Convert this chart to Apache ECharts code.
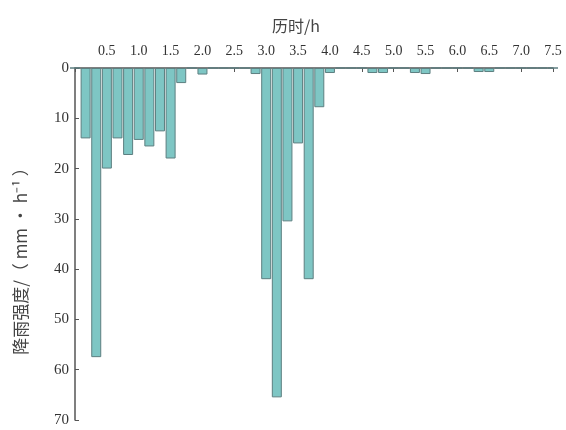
<!DOCTYPE html>
<html>
<head>
<meta charset="utf-8">
<script src="https://cdn.jsdelivr.net/npm/echarts@6/dist/echarts.min.js"></script>
<style>
  html, body { margin: 0; padding: 0; background: #fff; }
  #chart { width: 566px; height: 430px; }
</style>
</head>
<body>
<div id="chart"></div>
<script>
// 10 分钟一个时段，从 0 到 450 min
const minutes = Array.from({ length: 46 }, (_, i) => i * 10)
// 降雨强度 mm/h，按时段读图
const intensity = [
  0, 14, 57.5, 20, 14, 17.3, 14.3, 15.6, 12.6, 18,
  3, 0, 1.3, 0, 0, 0, 0, 1.2, 42, 65.5,
  30.5, 15, 42, 7.8, 1, 0, 0, 0, 1, 1,
  0, 0, 1, 1.2, 0, 0, 0, 0, 0.8, 0.8,
  0, 0, 0, 0, 0, 0
]
const hourTicks = { min: 0, max: 7.5, interval: 0.5 }
const depthTicks = { min: 0, max: 70, interval: 10 }

const chart = echarts.init(document.getElementById('chart'))

const serif = '"Liberation Serif", "Noto Sans CJK SC", serif'
const axisColor = '#555'

const option = {
  animation: false,
  grid: { left: 75, right: 13, top: 68, bottom: 10 },
  xAxis: [
    {
      type: 'value',
      position: 'top',
      min: hourTicks.min,
      max: hourTicks.max,
      interval: hourTicks.interval,
      name: '历时/h',
      nameLocation: 'middle',
      nameGap: 34,
      nameTextStyle: {
        fontFamily: '"Noto Sans CJK SC", sans-serif',
        fontSize: 16,
        color: '#444',
        padding: [0, 36, 0, 0]
      },
      axisLine: { show: true, lineStyle: { color: axisColor, width: 1.5 } },
      axisTick: { show: true, inside: true, length: 4, lineStyle: { color: axisColor } },
      splitLine: { show: false },
      axisLabel: {
        margin: 10,
        fontFamily: serif,
        fontSize: 14,
        color: '#333',
        formatter: v => (v === 0 ? '' : v.toFixed(1))
      }
    },
    {
      type: 'category',
      position: 'top',
      data: minutes,
      boundaryGap: false,
      show: false
    }
  ],
  yAxis: {
    type: 'value',
    inverse: true,
    min: depthTicks.min,
    max: depthTicks.max,
    interval: depthTicks.interval,
    name: '降雨强度/（ mm · h⁻¹ ）',
    nameLocation: 'middle',
    nameGap: 46,
    nameTextStyle: {
      fontFamily: '"Noto Sans CJK SC", sans-serif',
      fontSize: 17,
      color: '#444',
      padding: [0, 26, 0, 0]
    },
    axisLine: { show: true, lineStyle: { color: axisColor, width: 1.5 } },
    axisTick: { show: true, inside: true, length: 4, lineStyle: { color: axisColor } },
    splitLine: { show: false },
    axisLabel: {
      margin: 6,
      fontFamily: serif,
      fontSize: 15,
      color: '#333'
    }
  },
  series: [
    {
      type: 'bar',
      xAxisIndex: 1,
      data: intensity,
      barWidth: 10,
      itemStyle: {
        color: '#7ec6c4',
        borderColor: '#5d7f80',
        borderWidth: 1
      }
    }
  ]
}

chart.setOption(option)
</script>
</body>
</html>
